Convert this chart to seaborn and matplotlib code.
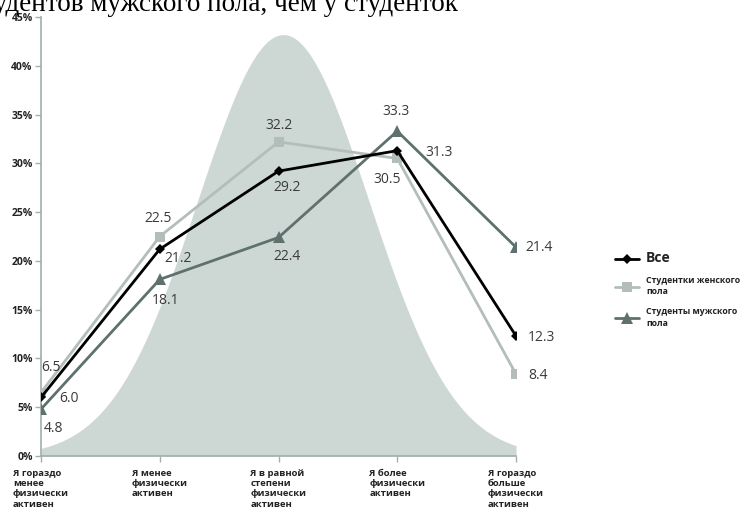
import numpy as np
import pandas as pd
import matplotlib
matplotlib.use("Agg")
import matplotlib.pyplot as plt
import seaborn as sns

# Categories on the x axis
categories = [
    "Я гораздо\nменее\nфизически\nактивен",
    "Я менее\nфизически\nактивен",
    "Я в равной\nстепени\nфизически\nактивен",
    "Я более\nфизически\nактивен",
    "Я гораздо\nбольше\nфизически\nактивен",
]

# Percent values per group
vals_all = [6.0, 21.2, 29.2, 31.3, 12.3]
vals_female = [6.5, 22.5, 32.2, 30.5, 8.4]
vals_male = [4.8, 18.1, 22.4, 33.3, 21.4]

series_names = ["Все", "Студентки женского\nпола", "Студенты мужского\nпола"]
y_ticks = [0, 5, 10, 15, 20, 25, 30, 35, 40, 45]

# Background bell shape: peak height (%), centre and spread in category units
bell_peak = 43.2
bell_center = 2.04
bell_sigma = 0.72

sns.set_theme(style="white")
plt.rcParams["font.family"] = ["Open Sans", "DejaVu Sans"]

W, H = 744, 516
fig = plt.figure(figsize=(W / 100, H / 100), dpi=100)
ax = fig.add_axes([41 / W, 60 / H, (516 - 41) / W, (456 - 17) / H])

# Decorative bell-shaped backdrop
xs = np.linspace(0, 4, 400)
bell = bell_peak * np.exp(-0.5 * ((xs - bell_center) / bell_sigma) ** 2)
ax.fill_between(xs, 0, bell, color="#cdd8d5", lw=0, zorder=0)

pos = list(range(len(categories)))
df = pd.DataFrame({"x": pos * 3,
                   "y": vals_all + vals_female + vals_male,
                   "group": [series_names[0]] * 5 + [series_names[1]] * 5 + [series_names[2]] * 5})

styles = {
    series_names[0]: dict(color="#000000", marker="D", ms=5.5, z=4),
    series_names[1]: dict(color="#b3bebb", marker="s", ms=7.5, z=3),
    series_names[2]: dict(color="#5e716e", marker="^", ms=8.5, z=3),
}
for name in series_names:
    st = styles[name]
    sub = df[df["group"] == name]
    sns.lineplot(data=sub, x="x", y="y", ax=ax, color=st["color"], lw=2.0,
                 marker=st["marker"], markersize=st["ms"], markeredgewidth=0,
                 label=name, zorder=st["z"], sort=False)

# Value labels: (dx, dy) offsets in points and horizontal alignment
lab_color = "#3a3a3a"
offs_all = [(20, -0.5, "center"), (13, -6.5, "center"), (6, -11.5, "center"),
            (30, -1.5, "center"), (8.5, -1, "left")]
offs_female = [(7, 18, "center"), (-1, 13, "center"), (0, 12, "center"),
               (-7, -15, "center"), (8.5, -1, "left")]
offs_male = [(9, -14, "center"), (4, -15, "center"), (6, -14, "center"),
             (-1, 14, "center"), (6.5, 0, "left")]
for vals, offs in [(vals_all, offs_all), (vals_female, offs_female), (vals_male, offs_male)]:
    for i, (v, (dx, dy, ha)) in enumerate(zip(vals, offs)):
        ax.annotate(f"{v:.1f}", (i, v), xytext=(dx, dy), textcoords="offset points",
                    ha=ha, va="center", fontsize=10, color=lab_color, zorder=6)

ax.set_xlim(0, 4)
ax.set_ylim(0, 45)
ax.set_yticks(y_ticks)
ax.set_yticklabels([f"{t}%" for t in y_ticks], fontsize=7.5, fontweight="bold", color="#222222")
ax.set_xticks(pos)
ax.set_xticklabels(categories, fontsize=6.8, fontweight="bold", color="#222222",
                   ha="center", multialignment="left", linespacing=1.2)
ax.set_xlabel("")
ax.set_ylabel("")
for s in ["top", "right"]:
    ax.spines[s].set_visible(False)
for s in ["left", "bottom"]:
    ax.spines[s].set_color("#a4aeac")
    ax.spines[s].set_linewidth(1.2)
ax.tick_params(axis="both", which="both", length=4, width=1, color="#a4aeac",
               direction="out", left=True, bottom=True, pad=2)
ax.tick_params(axis="x", pad=5)
ax.set_facecolor("none")

leg = ax.legend(loc="upper left", bbox_to_anchor=(1.2, 0.475), frameon=False,
                prop={"family": ["Open Sans", "DejaVu Sans"], "size": 6.3, "weight": "bold"},
                handlelength=2.8, handletextpad=0.8, labelspacing=1.25, borderaxespad=0)
for i, t in enumerate(leg.get_texts()):
    t.set_color("#222222")
    t.set_linespacing(1.35)
    if i == 0:
        t.set_fontsize(10)

# Header line partly outside the canvas
fig.text(458 / W, 1 - 11 / H, "студентов мужского пола, чем у студенток", family="Liberation Serif",
         fontsize=19.5, ha="right", va="baseline", color="#000000")

fig.savefig("out.png", dpi=100)
